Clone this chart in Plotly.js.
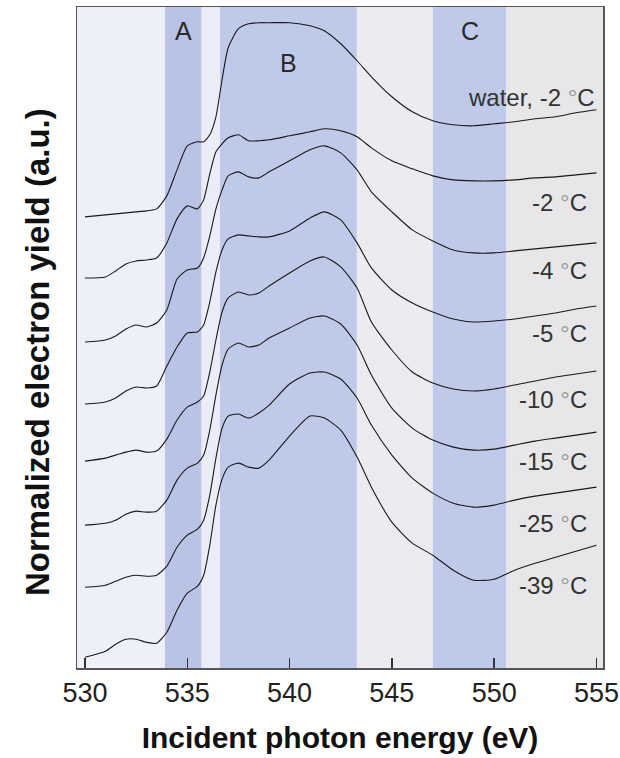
<!DOCTYPE html>
<html>
<head>
<meta charset="utf-8">
<script src="https://cdn.plot.ly/plotly-3.0.1.min.js"></script>
<style>html,body{margin:0;padding:0;background:#fff;}#chart{width:620px;height:758px;}</style>
</head>
<body>
<div id="chart"></div>
<script>
// Incident photon energy grid (eV)
const energy = [530,531,531.5,532,532.5,533,533.5,534,534.5,535,535.5,535.8,536.1,536.4,536.7,537,537.5,538,538.5,539,540,541,541.7,542.5,543.3,544,545,546,547,548,549,550,551,552,553,554,555];

// Normalized electron yield (a.u., curves stacked with vertical offsets)
const water_m2 = [451,453,454,455,456,457,459,472,498,522,526,526,533,551,588,620,639,644,645,645,645,642,637,624,607,591,571,556,547,543,542,544,546,549,551,555,558];
const ice_m2   = [390,391,397,404,407,408,410,425,449,462,459,468,494,516,524,530,533,527,527,528,532,536,539,537,531,520,507,499,492,488,487,487,488,490,491,493,495];
const ice_m4   = [326,328,332,339,343,341,345,358,389,398,400,410,432,459,478,492,496,491,490,496,507,518,522,515,498,476,456,438,427,418,415,415,417,419,421,423,425];
const ice_m5   = [264,266,270,277,281,280,282,302,321,335,336,343,366,396,418,429,433,432,431,431,437,450,456,448,425,400,378,365,356,349,346,347,349,352,355,359,362];
const ice_m10  = [207,210,213,216,218,216,217,229,248,261,266,272,296,328,356,370,376,373,375,382,395,407,411,401,380,346,318,296,285,279,277,279,283,287,291,294,297];
const ice_m15  = [143,145,148,154,157,156,157,168,188,200,205,213,238,273,303,319,325,321,323,330,340,350,352,344,323,293,260,240,228,221,218,219,223,227,230,233,236];
const ice_m25  = [81,83,87,91,93,92,93,102,121,133,139,148,173,210,240,252,254,250,255,263,284,295,296,289,270,243,213,190,175,165,161,163,168,172,175,178,181];
const ice_m39  = [11,17,24,29,29,26,25,36,58,75,82,93,123,163,189,201,205,201,200,208,232,252,250,238,211,181,146,125,113,98,88,89,98,105,111,117,123];

const seriesList = [water_m2, ice_m2, ice_m4, ice_m5, ice_m10, ice_m15, ice_m25, ice_m39];
const seriesLabels = ['water, -2 °C', '-2 °C', '-4 °C', '-5 °C', '-10 °C', '-15 °C', '-25 °C', '-39 °C'];
const labelYield = [570, 465, 397, 335, 269, 207, 145, 83];

// Shaded energy regions
const regionEdges = [529.61, 533.91, 535.70, 536.60, 543.29, 547.0, 550.6, 555.32];
const regionNames = ['', 'A', '', 'B', '', 'C', ''];
const regionNameYield = [0, 637, 0, 605, 0, 637, 0];

const xTicks = [530, 535, 540, 545, 550, 555];

const regionColors = ['#edf0f9', '#b8c3e6', '#eaedf7', '#bfc9e9', '#ebecf1', '#bfc9e9', '#e7e7e9'];

const FONT = 'Liberation Sans, Arial, Helvetica, sans-serif';

const traces = seriesList.map((ys, i) => ({
  x: energy, y: ys, type: 'scatter', mode: 'lines',
  name: seriesLabels[i], showlegend: false,
  line: {color: '#1a1a1a', width: 1.1, shape: 'spline', smoothing: 0.6},
  hoverinfo: 'skip'
}));

const shapes = [];
for (let i = 0; i < regionEdges.length - 1; i++) {
  shapes.push({type: 'rect', xref: 'x', yref: 'paper', x0: regionEdges[i], x1: regionEdges[i+1], y0: 0, y1: 1,
    fillcolor: regionColors[i], line: {width: 0}, layer: 'below'});
}

const annotations = [];
seriesLabels.forEach((t, i) => {
  const txt = t.replace('°', '<span style="color:#9a9a9a">°</span>');
  annotations.push({x: 554.65 + (i === 0 ? 0.4 : 0), y: labelYield[i], xref: 'x', yref: 'y', text: txt,
    showarrow: false, xanchor: 'right', yanchor: 'middle',
    font: {family: FONT, size: 24, color: '#333'}});
});
regionNames.forEach((n, i) => {
  if (!n) return;
  annotations.push({x: (regionEdges[i] + regionEdges[i+1]) / 2, y: regionNameYield[i], xref: 'x', yref: 'y', text: n,
    showarrow: false, xanchor: 'center', yanchor: 'middle',
    font: {family: FONT, size: 25, color: '#2a2a2a'}});
});
// y-axis title
annotations.push({x: -0.076, y: 0.478, xref: 'paper', yref: 'paper', textangle: -90,
  text: '<b>Normalized electron yield (a.u.)</b>', showarrow: false, xanchor: 'center', yanchor: 'middle',
  font: {family: FONT, size: 33, color: '#111'}});

const layout = {
  width: 620, height: 758,
  margin: {l: 77, r: 17, t: 7, b: 90},
  paper_bgcolor: '#ffffff', plot_bgcolor: '#ffffff',
  showlegend: false,
  xaxis: {
    range: [regionEdges[0], regionEdges[regionEdges.length - 1]],
    tickvals: xTicks, ticktext: xTicks.map(String),
    ticks: 'inside', ticklen: 10, tickwidth: 1.5, tickcolor: '#333',
    showgrid: false, zeroline: false,
    showline: true, mirror: true, linecolor: '#555', linewidth: 1.5,
    tickfont: {family: FONT, size: 27, color: '#222'},
    title: {text: '<b>Incident photon energy (eV)</b>', font: {family: FONT, size: 30, color: '#111'}, standoff: 20}
  },
  yaxis: {
    range: [0.3, 660.7],
    showticklabels: false, ticks: '',
    showgrid: false, zeroline: false,
    showline: true, mirror: true, linecolor: '#555', linewidth: 1.5
  },
  shapes: shapes,
  annotations: annotations
};

Plotly.newPlot('chart', traces, layout, {staticPlot: true, displayModeBar: false});
</script>
</body>
</html>
